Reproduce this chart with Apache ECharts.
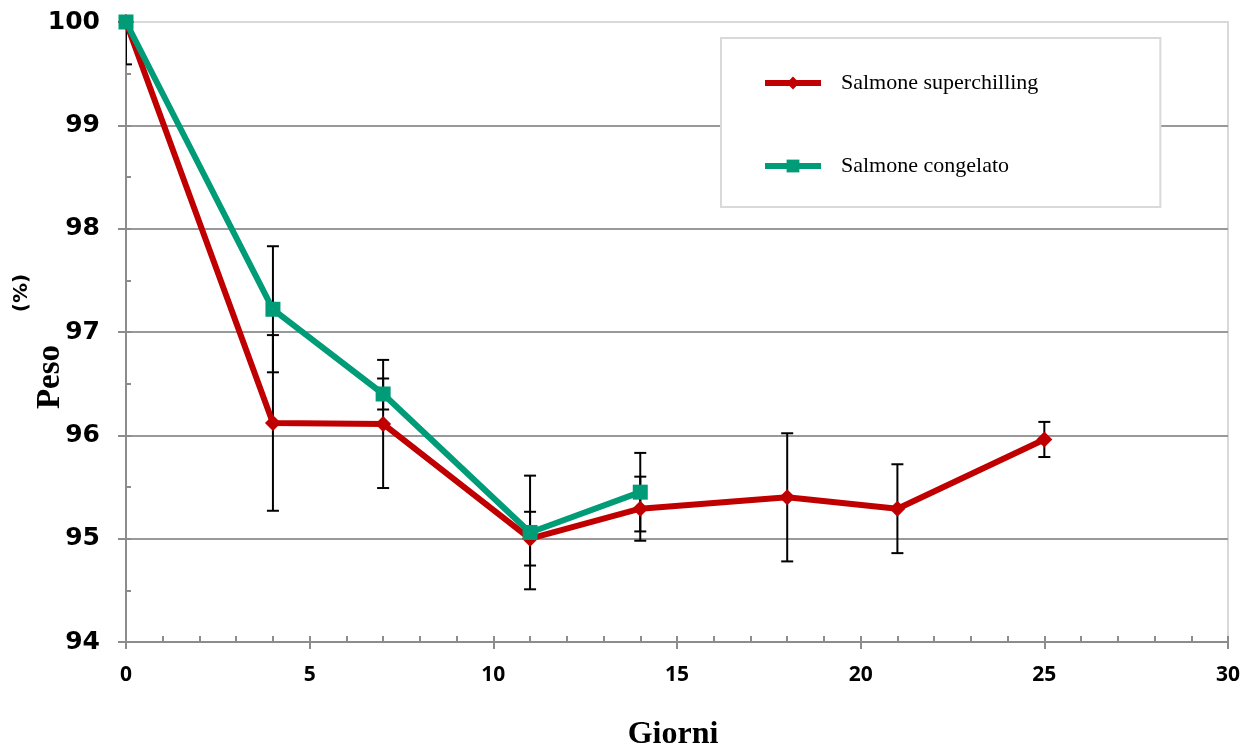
<!DOCTYPE html>
<html>
<head>
<meta charset="utf-8">
<script src="https://cdn.jsdelivr.net/npm/echarts@6/dist/echarts.min.js"></script>
<style>
html,body{margin:0;padding:0;background:#fff;overflow:hidden;}
#chart{width:1247px;height:756px;}
</style>
</head>
<body>
<div id="chart"></div>
<script>
// ---- data ----
const seriesNames = ['Salmone superchilling', 'Salmone congelato'];
const daysSuper = [0, 4, 7, 11, 14, 18, 21, 25];
const weightSuper = [100, 96.12, 96.11, 95.0, 95.29, 95.40, 95.29, 95.96];
const errSuper = [0.41, 0.85, 0.62, 0.26, 0.31, 0.62, 0.43, 0.17];
const daysFrozen = [0, 4, 7, 11, 14];
const weightFrozen = [100, 97.22, 96.40, 95.06, 95.45];
const errFrozen = [null, 0.61, 0.15, 0.55, 0.38];
const xTicks = [0, 5, 10, 15, 20, 25, 30];
const yTicks = [94, 95, 96, 97, 98, 99, 100];
const xTitle = 'Giorni';
const yTitle = 'Peso';
const yUnit = '(%)';

function pairs(xs, ys) { return xs.map((x, i) => [x, ys[i]]); }
function errData(xs, ys, es) {
  const out = [];
  xs.forEach((x, i) => { if (es[i] != null) out.push([x, ys[i] - es[i], ys[i] + es[i]]); });
  return out;
}
function errRender(params, api) {
  const x = api.value(0);
  const lo = api.coord([x, api.value(1)]);
  const hi = api.coord([x, api.value(2)]);
  const w = 6;
  const st = { stroke: '#000', lineWidth: 2 };
  return {
    type: 'group',
    children: [
      { type: 'line', shape: { x1: lo[0], y1: lo[1], x2: hi[0], y2: hi[1] }, style: st },
      { type: 'line', shape: { x1: lo[0] - w, y1: lo[1], x2: lo[0] + w, y2: lo[1] }, style: st },
      { type: 'line', shape: { x1: hi[0] - w, y1: hi[1], x2: hi[0] + w, y2: hi[1] }, style: st }
    ]
  };
}

const axisGray = '#8c8c8c';
const chart = echarts.init(document.getElementById('chart'), null, { renderer: 'canvas', width: 1247, height: 756 });
chart.setOption({
  animation: false,
  backgroundColor: '#fff',
  grid: { left: 126, right: 19, top: 22, bottom: 106, show: true, borderColor: '#d9d9d9', borderWidth: 2 },
  legend: {
    data: seriesNames,
    orient: 'vertical',
    left: 721, top: 38,
    padding: [34, 122, 30, 41],
    itemGap: 61,
    itemWidth: 56, itemHeight: 16,
    backgroundColor: '#fff',
    borderColor: '#d9d9d9', borderWidth: 2,
    lineStyle: { width: 6 },
    textStyle: { fontFamily: 'Liberation Serif', fontSize: 22, color: '#000', padding: [0, 0, 0, 15] }
  },
  xAxis: [{
    type: 'value', min: xTicks[0], max: xTicks[xTicks.length - 1], interval: 5,
    name: xTitle, nameLocation: 'middle', nameGap: 77,
    nameTextStyle: { fontFamily: 'Liberation Serif', fontWeight: 'bold', fontSize: 32, color: '#000', padding: [0, 8, 0, 0] },
    axisLine: { show: true, lineStyle: { color: axisGray, width: 2 } },
    axisTick: { show: true, inside: false, length: 7, lineStyle: { color: axisGray, width: 2 } },
    axisLabel: { margin: 23, fontFamily: 'Open Sans', fontWeight: 'bold', fontSize: 21, color: '#000' },
    splitLine: { show: false }
  }, {
    type: 'value', min: xTicks[0], max: xTicks[xTicks.length - 1], interval: 5, position: 'bottom',
    axisLine: { show: false },
    axisTick: { show: true, inside: true, length: 6, lineStyle: { color: axisGray, width: 2 } },
    minorTick: { show: true, splitNumber: 5, length: 6, lineStyle: { color: axisGray, width: 2 } },
    axisLabel: { show: false },
    splitLine: { show: false }
  }],
  yAxis: [{
    type: 'value', min: yTicks[0], max: yTicks[yTicks.length - 1], interval: 1,
    axisLine: { show: true, lineStyle: { color: axisGray, width: 2 } },
    axisTick: { show: true, inside: false, length: 8, lineStyle: { color: axisGray, width: 2 } },
    axisLabel: { margin: 26, fontFamily: 'DejaVu Sans', fontWeight: 'bold', fontSize: 25, color: '#000' },
    splitLine: { show: true, showMaxLine: false, lineStyle: { color: '#999', width: 2 } }
  }, {
    type: 'value', min: yTicks[0], max: yTicks[yTicks.length - 1], interval: 1, position: 'left',
    axisLine: { show: false },
    axisTick: { show: true, inside: true, length: 5, lineStyle: { color: axisGray, width: 2 } },
    minorTick: { show: true, splitNumber: 2, length: 5, lineStyle: { color: axisGray, width: 2 } },
    axisLabel: { show: false },
    splitLine: { show: false }
  }],
  graphic: [
    { type: 'text', x: 50, y: 377, rotation: Math.PI / 2,
      style: { text: yTitle, font: 'bold 33px "Liberation Serif"', fill: '#000', align: 'center', verticalAlign: 'middle' } },
    { type: 'text', x: 22, y: 293, rotation: Math.PI / 2,
      style: { text: yUnit, font: 'bold 20px "DejaVu Sans"', fill: '#000', align: 'center', verticalAlign: 'middle' } }
  ],
  series: [
    { type: 'custom', name: 'err1', xAxisIndex: 0, yAxisIndex: 0, clip: true, z: 1,
      renderItem: errRender, encode: { x: 0, y: [1, 2] }, data: errData(daysSuper, weightSuper, errSuper) },
    { type: 'custom', name: 'err2', xAxisIndex: 0, yAxisIndex: 0, clip: true, z: 1,
      renderItem: errRender, encode: { x: 0, y: [1, 2] }, data: errData(daysFrozen, weightFrozen, errFrozen) },
    { type: 'line', name: seriesNames[0], xAxisIndex: 0, yAxisIndex: 0, z: 3,
      data: pairs(daysSuper, weightSuper),
      symbol: 'diamond', symbolSize: 16,
      lineStyle: { color: '#C00000', width: 6 }, itemStyle: { color: '#C00000' } },
    { type: 'line', name: seriesNames[1], xAxisIndex: 0, yAxisIndex: 0, z: 4,
      data: pairs(daysFrozen, weightFrozen),
      symbol: 'rect', symbolSize: 15,
      lineStyle: { color: '#009B77', width: 6 }, itemStyle: { color: '#009B77' } }
  ]
});
</script>
</body>
</html>
